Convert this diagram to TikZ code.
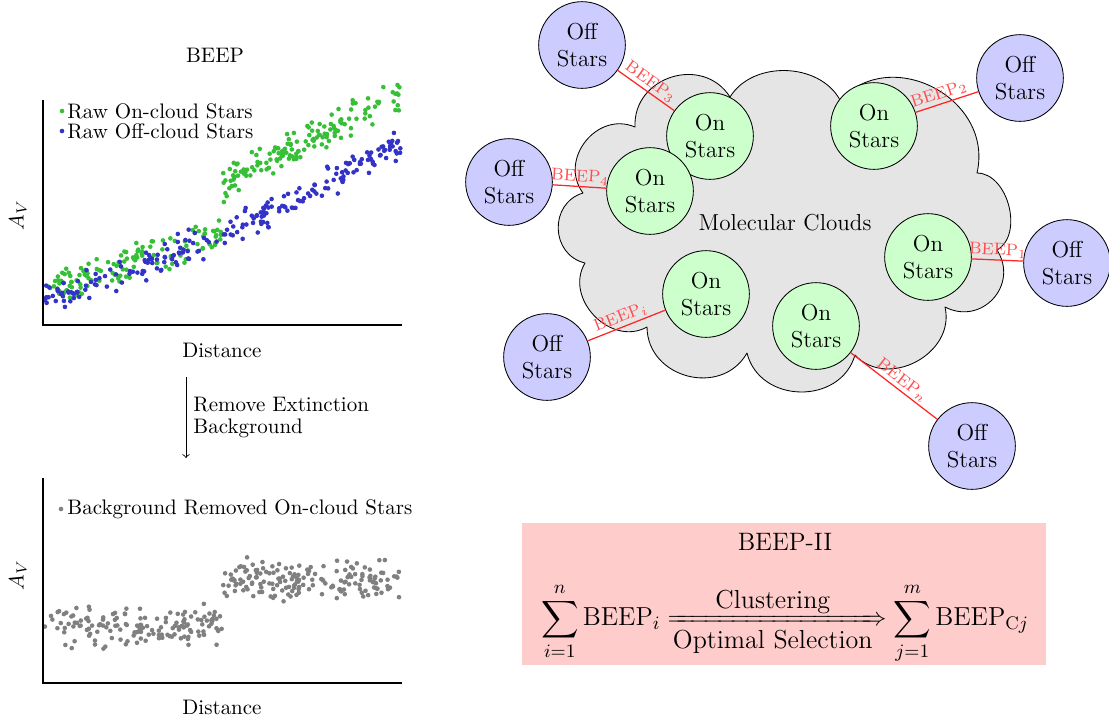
\documentclass[tikz,border=0pt]{standalone}
\usepackage{fontspec}
\usepackage{amsmath}
\usepackage{mathtools}
\usepackage{amssymb}
\usepackage{tikz}
\usetikzlibrary{shapes,arrows}
\definecolor{oncol}{rgb}{0.22, 0.75, 0.22}
\definecolor{offcol}{rgb}{0.2, 0.2, 0.78}
\definecolor{bgcol}{rgb}{0.5, 0.5, 0.5}
\newcommand{\starfont}{\fontsize{11}{13}\selectfont}
\newcommand{\boxfont}{\fontsize{12.4}{15}\selectfont}
\tikzstyle{offstar}=[circle,draw,fill=blue!20,inner sep=0pt,minimum size=41.3pt,align=center,font=\starfont]
\tikzstyle{onstar}=[circle,draw,fill=green!20,inner sep=0pt,minimum size=41.3pt,align=center,font=\starfont]
\tikzstyle{beepline}=[red!85,semithick]
\tikzstyle{beeplabel}=[sloped,above,font=\footnotesize,text=red!70,inner sep=1pt]
\tikzstyle{puff}=[bend left=75]
\newcommand{\stardot}[3]{
  \fill[#3] (#1, #2) circle (1.1pt);
}

\begin{document}
\begin{tikzpicture}[x=0.4763pt,y=-0.4763pt]
\useasboundingbox (0,0) rectangle (1109,722);
\pgfmathsetseed{42}

% raw extinction
\node (toptitle) at (215,55) {BEEP};
\foreach \k in {1,...,130}{
  \pgfmathsetmacro{\dx}{44+178*rnd}
  \pgfmathsetmacro{\dy}{291-0.31*(\dx-43)+10*(rand+rand)}
  \stardot{\dx}{\dy}{oncol}
}
\foreach \k in {1,...,150}{
  \pgfmathsetmacro{\dx}{222+179*rnd}
  \pgfmathsetmacro{\dy}{183-0.5*(\dx-222)+11*(rand+rand)}
  \stardot{\dx}{\dy}{oncol}
}
\foreach \k in {1,...,230}{
  \pgfmathsetmacro{\dx}{44+357*rnd}
  \pgfmathsetmacro{\dy}{295-0.25*(\dx-43)-5*((\dx-43)/100)^2+10*(rand+rand)}
  \stardot{\dx}{\dy}{offcol}
}
\draw[semithick] (43,100) -- (43,325) -- (402,325);
\node (topxlabel) at (222,350) {Distance};
\node[rotate=90] (topylabel) at (18,215) {$A_V$};
\stardot{62}{111}{oncol}
\node[anchor=west,inner sep=0pt] (legon) at (67,111) {Raw On-cloud Stars};
\stardot{62}{131}{offcol}
\node[anchor=west,inner sep=0pt] (legoff) at (67,131) {Raw Off-cloud Stars};

\coordinate (arrtop) at (186,377);
\coordinate (arrbot) at (186,458);
\draw[->] (arrtop) -- node[right,align=left] {Remove Extinction\\[-1.5pt]Background} (arrbot);

% background removed
\foreach \k in {1,...,150}{
  \pgfmathsetmacro{\dx}{44+178*rnd}
  \pgfmathsetmacro{\dy}{627+12*(rand+rand)}
  \stardot{\dx}{\dy}{bgcol}
}
\foreach \k in {1,...,170}{
  \pgfmathsetmacro{\dx}{222+179*rnd}
  \pgfmathsetmacro{\dy}{580+12*(rand+rand)}
  \stardot{\dx}{\dy}{bgcol}
}
\draw[semithick] (43,478) -- (43,683) -- (402,683);
\node (botxlabel) at (222,707) {Distance};
\node[rotate=90] (botylabel) at (18,575) {$A_V$};
\stardot{61}{509}{bgcol}
\node[anchor=west,inner sep=0pt] (legbg) at (67,509) {Background Removed On-cloud Stars};

% cloud
\draw[fill=gray!20,line join=round]
  (635,127) to[puff,looseness=1.3] (730,97)
  to[bend left=60] (840,100)
  to[puff,looseness=1.25] (977,173)
  to[puff,looseness=1.0] (997,250)
  to[puff,looseness=1.37] (945,307)
  to[puff,looseness=1.2] (855,355)
  to[puff,looseness=1.24] (747,353)
  to[puff,looseness=1.27] (647,327)
  to[puff,looseness=1.19] (585,263)
  to[puff,looseness=1.3] (583,193)
  to[puff,looseness=1.26] (635,127) -- cycle;
\node[font=\starfont] (cloudname) at (785,223) {Molecular Clouds};

\node[onstar] (on3) at (710,136) {On\\Stars};
\node[onstar] (on4) at (650,191) {On\\Stars};
\node[onstar] (on2) at (874,126) {On\\Stars};
\node[onstar] (on1) at (928,257) {On\\Stars};
\node[onstar] (oni) at (706,294) {On\\Stars};
\node[onstar] (onn) at (816,326) {On\\Stars};

\node[offstar] (off3) at (582,45) {Off\\Stars};
\node[offstar] (off4) at (509,182) {Off\\Stars};
\node[offstar] (off2) at (1020,78) {Off\\Stars};
\node[offstar] (off1) at (1067,263) {Off\\Stars};
\node[offstar] (offi) at (547,357) {Off\\Stars};
\node[offstar] (offn) at (972,446) {Off\\Stars};

\draw[beepline] (off3) -- node[beeplabel,pos=0.48] {BEEP$_3$} (on3);
\draw[beepline] (on2) -- node[beeplabel,pos=0.42] {BEEP$_2$} (off2);
\draw[beepline] (off4) -- node[beeplabel,pos=0.5] {BEEP$_4$} (on4);
\draw[beepline] (on1) -- node[beeplabel,pos=0.5] {BEEP$_1$} (off1);
\draw[beepline] (offi) -- node[beeplabel,pos=0.47] {BEEP$_i$} (oni);
\draw[beepline] (onn) -- node[beeplabel,pos=0.53] {BEEP$_n$} (offn);

% beep-ii
\node[fill=red!20,minimum width=249.6pt,minimum height=67.6pt,inner sep=0pt] (beepbox) at (784,594) {};
\node[font=\large] (boxtitle) at (785,542) {BEEP-II};
\node[font=\boxfont] (boxformula) at (785,623) {$\displaystyle\sum_{i=1}^{n}\mathrm{BEEP}_i \xRightarrow[\displaystyle\text{Optimal Selection}]{\displaystyle\text{Clustering}} \sum_{j=1}^{m}\mathrm{BEEP}_{\mathrm{C}j}$};

\end{tikzpicture}
\end{document}
